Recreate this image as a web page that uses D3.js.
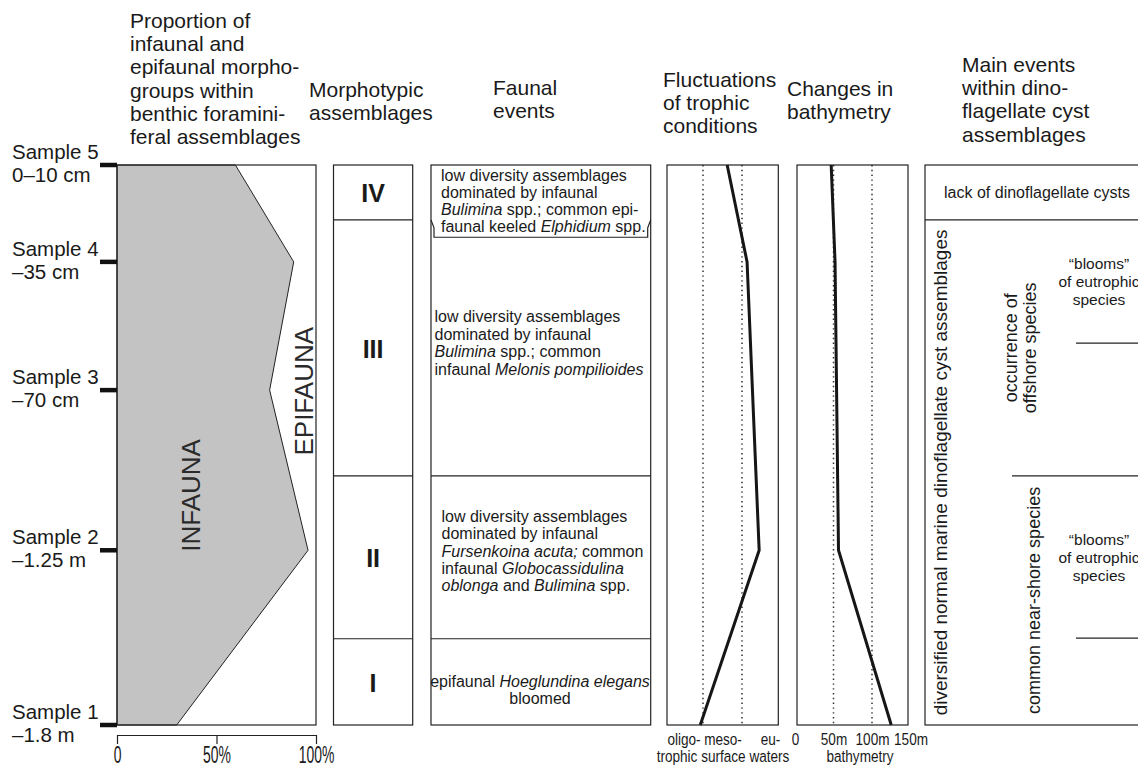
<!DOCTYPE html>
<html><head><meta charset="utf-8">
<script src="https://cdn.jsdelivr.net/npm/d3@7"></script>
<style>
body{margin:0;background:#fff}
svg{display:block;font-family:"Liberation Sans",Arial,Helvetica,sans-serif}
text{fill:#1a1a1a;white-space:pre}
</style></head><body>
<svg id="c" width="1138" height="769"></svg>
<script>
// ---------------- data ----------------
const samples = ["Sample 5", "Sample 4", "Sample 3", "Sample 2", "Sample 1"];
const sampleDepths = ["0–10 cm", "–35 cm", "–70 cm", "–1.25 m", "–1.8 m"];
// relative position of each sample in the (schematic) core log, % of column height
const samplePos = [0, 17.3, 40.2, 68.8, 100];
// proportion of infaunal morphogroups (%)
const infaunaPct = [59.5, 88.8, 76.7, 96, 30];
const pctTicks = [0, 50, 100];
const pctTickLabels = ["0", "50%", "100%"];
// morphotypic assemblages and their boundaries (% of column)
const morphoZones = ["IV", "III", "II", "I"];
const zoneBounds = [0, 9.8, 55.5, 84.6, 100];
const faunalIVBottom = 12.9;
// faunal events text (*...* = italic)
const faunalEvents = [
  ["low diversity assemblages", "dominated by infaunal", "*Bulimina* spp.; common epi-", "faunal keeled *Elphidium* spp."],
  ["low diversity assemblages", "dominated by infaunal", "*Bulimina* spp.; common", "infaunal *Melonis pompilioides*"],
  ["low diversity assemblages", "dominated by infaunal", "*Fursenkoina acuta;* common", "infaunal *Globocassidulina*", "*oblonga* and *Bulimina* spp."],
  ["epifaunal *Hoeglundina elegans*", "bloomed"]
];
// trophic level: 0-1 oligo-, 1-2 meso-, 2-3 eutrophic (null = not marked)
const trophicLevel = [1.62, 2.13, null, 2.44, 0.93];
const trophicBounds = [1, 2];
const trophicLabels = ["oligo-", "meso-", "eu-"];
const trophicLabelPos = [0.5, 1.5, 2.72];
// bathymetry (m)
const bathyDepth = [47, 52, null, 56.5, 125];
const bathyTicks = [0, 50, 100, 150];
const bathyRef = [50, 100];
// dinoflagellate cyst events
const dinoTop = "lack of dinoflagellate cysts";
const dinoMain = "diversified normal marine dinoflagellate cyst assemblages";
const dinoBounds = [9.8, 55.5];
const dinoOffshore = ["occurrence of", "offshore species"];
const dinoNearshore = "common near-shore species";
const bloomText = ["“blooms”", "of eutrophic", "species"];
const bloomEnds = [31.8, 84.5];

// ---------------- drawing ----------------
const svg = d3.select("#c");
const INK = "#222";
const y = d3.scaleLinear().domain([0, 100]).range([165, 725]);

// headers
const headers = [
  {x: 130, y: 28, lines: ["Proportion of", "infaunal and", "epifaunal morpho-", "groups within", "benthic foramini-", "feral assemblages"]},
  {x: 309, y: 97, lines: ["Morphotypic", "assemblages"]},
  {x: 493, y: 95, lines: ["Faunal", "events"]},
  {x: 663, y: 87, lines: ["Fluctuations", "of trophic", "conditions"]},
  {x: 787, y: 96, lines: ["Changes in", "bathymetry"]},
  {x: 962, y: 72, lines: ["Main events", "within dino-", "flagellate cyst", "assemblages"]}
];
headers.forEach(h => {
  const t = svg.append("text").attr("font-size", 21);
  h.lines.forEach((l, i) => t.append("tspan").attr("x", h.x).attr("y", h.y + i * 23.2).text(l));
});

// ---- panel 1: infauna proportion ----
const xPct = d3.scaleLinear().domain([0, 100]).range([117, 316]);
const pts = samplePos.map((p, i) => ({p, v: infaunaPct[i]}));
svg.append("path").datum(pts)
  .attr("d", d3.area().x0(xPct(0)).x1(d => xPct(d.v)).y(d => y(d.p)))
  .attr("fill", "#c3c3c3").attr("stroke", INK).attr("stroke-width", 1);
svg.append("rect").attr("x", xPct(0)).attr("y", y(0)).attr("width", xPct(100) - xPct(0)).attr("height", y(100) - y(0))
  .attr("fill", "none").attr("stroke", INK).attr("stroke-width", 1.2);
svg.append("text").attr("transform", `translate(${xPct(37)},${y(59)}) rotate(-90)`)
  .attr("text-anchor", "middle").attr("dominant-baseline", "central").attr("font-size", 26).style("fill", "#2a2a2a").text("INFAUNA");
svg.append("text").attr("transform", `translate(${xPct(94)},${y(40.4)}) rotate(-90)`)
  .attr("text-anchor", "middle").attr("dominant-baseline", "central").attr("font-size", 26).style("fill", "#2a2a2a").text("EPIFAUNA");

// sample ticks and labels
samples.forEach((s, i) => {
  const yy = y(samplePos[i]);
  svg.append("line").attr("x1", 100).attr("x2", 117).attr("y1", yy).attr("y2", yy).attr("stroke", "#111").attr("stroke-width", 4.5);
  const t = svg.append("text").attr("font-size", 20.5);
  t.append("tspan").attr("x", 12).attr("y", yy - 6).text(s);
  t.append("tspan").attr("x", 12).attr("y", yy + 17).text(sampleDepths[i]);
});

// bottom percent axis
const axP = svg.append("g").attr("transform", "translate(0,735)")
  .call(d3.axisBottom(xPct).tickValues(pctTicks).tickFormat((d, i) => pctTickLabels[i]).tickSizeInner(9).tickSizeOuter(0));
axP.attr("font-family", null).attr("font-size", null);
axP.select(".domain").attr("stroke", INK).attr("stroke-width", 1.2);
axP.selectAll(".tick line").attr("stroke", INK).attr("stroke-width", 1.2);
axP.selectAll(".tick text").attr("y", 28).attr("dy", null).attr("font-size", 24)
  .attr("transform", "scale(0.58,1)").style("fill", "#1a1a1a");

// ---- panel 2: morphotypic assemblages ----
const m = {x0: 333.5, x1: 412.7};
svg.append("rect").attr("x", m.x0).attr("y", y(0)).attr("width", m.x1 - m.x0).attr("height", y(100) - y(0))
  .attr("fill", "none").attr("stroke", INK).attr("stroke-width", 1.2);
morphoZones.forEach((z, i) => {
  if (i > 0) svg.append("line").attr("x1", m.x0).attr("x2", m.x1).attr("y1", y(zoneBounds[i])).attr("y2", y(zoneBounds[i])).attr("stroke", INK).attr("stroke-width", 1.2);
  const cy = (y(zoneBounds[i]) + y(zoneBounds[i + 1])) / 2;
  svg.append("text").attr("x", (m.x0 + m.x1) / 2).attr("y", cy + 10).attr("text-anchor", "middle")
    .attr("font-size", 25).attr("font-weight", "bold").text(z);
});

// ---- panel 3: faunal events ----
const f = {x0: 431, x1: 650.7};
svg.append("rect").attr("x", f.x0).attr("y", y(0)).attr("width", f.x1 - f.x0).attr("height", y(100) - y(0))
  .attr("fill", "none").attr("stroke", INK).attr("stroke-width", 1.2);
[2, 3].forEach(i => svg.append("line").attr("x1", f.x0).attr("x2", f.x1).attr("y1", y(zoneBounds[i])).attr("y2", y(zoneBounds[i])).attr("stroke", INK).attr("stroke-width", 1.2));
{
  const yb = y(zoneBounds[1]), yl = y(faunalIVBottom);
  svg.append("path").attr("d", `M${f.x0},${yb} L${f.x0 + 3},${yb + 8} L${f.x0 + 3},${yl} L${f.x1 - 3},${yl} L${f.x1 - 3},${yb + 8} L${f.x1},${yb}`)
    .attr("fill", "none").attr("stroke", INK).attr("stroke-width", 1.2);
}
const faunalLayout = [
  {x: 441, y: 181, step: 17, anchor: "start"},
  {x: 434.5, y: 322, step: 17.6, anchor: "start"},
  {x: 441.5, y: 522, step: 17.3, anchor: "start"},
  {x: 540, y: 687, step: 17.3, anchor: "middle"}
];
function richLine(sel, str) {
  str.split("*").forEach((seg, k) => {
    if (!seg) return;
    const ts = sel.append("tspan").text(seg);
    if (k % 2 === 1) ts.attr("font-style", "italic");
  });
}
faunalEvents.forEach((lines, i) => {
  const L = faunalLayout[i];
  lines.forEach((l, j) => {
    const t = svg.append("text").attr("x", L.x).attr("y", L.y + j * L.step).attr("font-size", 16).attr("text-anchor", L.anchor);
    richLine(t, l);
  });
});

// narrow labels under panels 4-5
const NARROW = 0.78, NFS = 17.4;

// ---- panel 4: trophic conditions ----
const xT = d3.scaleLinear().domain([0, 3]).range([664, 781]);
const p4 = {x0: 667, x1: 778.3};
trophicBounds.forEach(b => svg.append("line").attr("x1", xT(b)).attr("x2", xT(b)).attr("y1", y(0)).attr("y2", y(100))
  .attr("stroke", "#333").attr("stroke-width", 1.5).attr("stroke-dasharray", "1.4,3.4"));
svg.append("rect").attr("x", p4.x0).attr("y", y(0)).attr("width", p4.x1 - p4.x0).attr("height", y(100) - y(0))
  .attr("fill", "none").attr("stroke", INK).attr("stroke-width", 1.2);
const trophPts = samplePos.map((p, i) => ({p, v: trophicLevel[i]})).filter(d => d.v !== null);
svg.append("path").datum(trophPts).attr("d", d3.line().x(d => xT(d.v)).y(d => y(d.p)))
  .attr("fill", "none").attr("stroke", "#161616").attr("stroke-width", 3);
const axT = svg.append("g").attr("transform", "translate(0,745)")
  .call(d3.axisBottom(xT).tickValues(trophicLabelPos).tickFormat((d, i) => trophicLabels[i]).tickSize(0));
axT.attr("font-family", null).attr("font-size", null);
axT.select(".domain").remove();
axT.selectAll(".tick text").attr("y", 0).attr("dy", null).attr("font-size", NFS)
  .attr("transform", `scale(${NARROW},1)`).style("fill", "#1a1a1a");
svg.append("text").attr("transform", `translate(723,762) scale(${NARROW},1)`).attr("text-anchor", "middle")
  .attr("font-size", NFS).text("trophic surface waters");

// ---- panel 5: bathymetry ----
const xB = d3.scaleLinear().domain([0, 150]).range([795, 910.5]);
const p5 = {x0: 797, x1: 908};
bathyRef.forEach(b => svg.append("line").attr("x1", xB(b)).attr("x2", xB(b)).attr("y1", y(0)).attr("y2", y(100))
  .attr("stroke", "#333").attr("stroke-width", 1.5).attr("stroke-dasharray", "1.4,3.4"));
svg.append("rect").attr("x", p5.x0).attr("y", y(0)).attr("width", p5.x1 - p5.x0).attr("height", y(100) - y(0))
  .attr("fill", "none").attr("stroke", INK).attr("stroke-width", 1.2);
const bathyPts = samplePos.map((p, i) => ({p, v: bathyDepth[i]})).filter(d => d.v !== null);
svg.append("path").datum(bathyPts).attr("d", d3.line().x(d => xB(d.v)).y(d => y(d.p)))
  .attr("fill", "none").attr("stroke", "#161616").attr("stroke-width", 3);
const axB = svg.append("g").attr("transform", "translate(0,745)")
  .call(d3.axisBottom(xB).tickValues(bathyTicks).tickFormat(d => d === 0 ? "0" : d + "m").tickSize(0));
axB.attr("font-family", null).attr("font-size", null);
axB.select(".domain").remove();
axB.selectAll(".tick text").attr("y", 0).attr("dy", null).attr("font-size", NFS)
  .attr("transform", `scale(${NARROW},1)`).style("fill", "#1a1a1a");
svg.append("text").attr("transform", `translate(860,762) scale(${NARROW},1)`).attr("text-anchor", "middle")
  .attr("font-size", NFS).text("bathymetry");

// ---- panel 6: dinoflagellate cysts ----
const d6 = {x0: 925, x1: 1160};
svg.append("rect").attr("x", d6.x0).attr("y", y(0)).attr("width", d6.x1 - d6.x0).attr("height", y(100) - y(0))
  .attr("fill", "none").attr("stroke", INK).attr("stroke-width", 1.2);
svg.append("line").attr("x1", d6.x0).attr("x2", d6.x1).attr("y1", y(dinoBounds[0])).attr("y2", y(dinoBounds[0])).attr("stroke", INK).attr("stroke-width", 1.2);
svg.append("line").attr("x1", 1012).attr("x2", d6.x1).attr("y1", y(dinoBounds[1])).attr("y2", y(dinoBounds[1])).attr("stroke", INK).attr("stroke-width", 1.2);
bloomEnds.forEach(b => svg.append("line").attr("x1", 1076).attr("x2", d6.x1).attr("y1", y(b)).attr("y2", y(b)).attr("stroke", INK).attr("stroke-width", 1.2));
svg.append("text").attr("x", 1037).attr("y", (y(0) + y(dinoBounds[0])) / 2 + 5.5).attr("text-anchor", "middle").attr("font-size", 16).text(dinoTop);
function vtext(x, yc, str, size) {
  svg.append("text").attr("transform", `translate(${x},${yc}) rotate(-90)`).attr("text-anchor", "middle")
    .attr("dominant-baseline", "central").attr("font-size", size).text(str);
}
vtext(940, (y(dinoBounds[0]) + y(100)) / 2, dinoMain, 19);
vtext(1011, (y(dinoBounds[0]) + y(dinoBounds[1])) / 2, dinoOffshore[0], 18);
vtext(1030, (y(dinoBounds[0]) + y(dinoBounds[1])) / 2, dinoOffshore[1], 18);
vtext(1034, (y(dinoBounds[1]) + y(100)) / 2, dinoNearshore, 18);
[[dinoBounds[0], bloomEnds[0]], [dinoBounds[1], bloomEnds[1]]].forEach(([a, b]) => {
  const cy = (y(a) + y(b)) / 2;
  bloomText.forEach((l, j) => svg.append("text").attr("x", 1099).attr("y", cy + (j - 1) * 18 + 5.5)
    .attr("text-anchor", "middle").attr("font-size", 15.5).text(l));
});
</script>
</body></html>
